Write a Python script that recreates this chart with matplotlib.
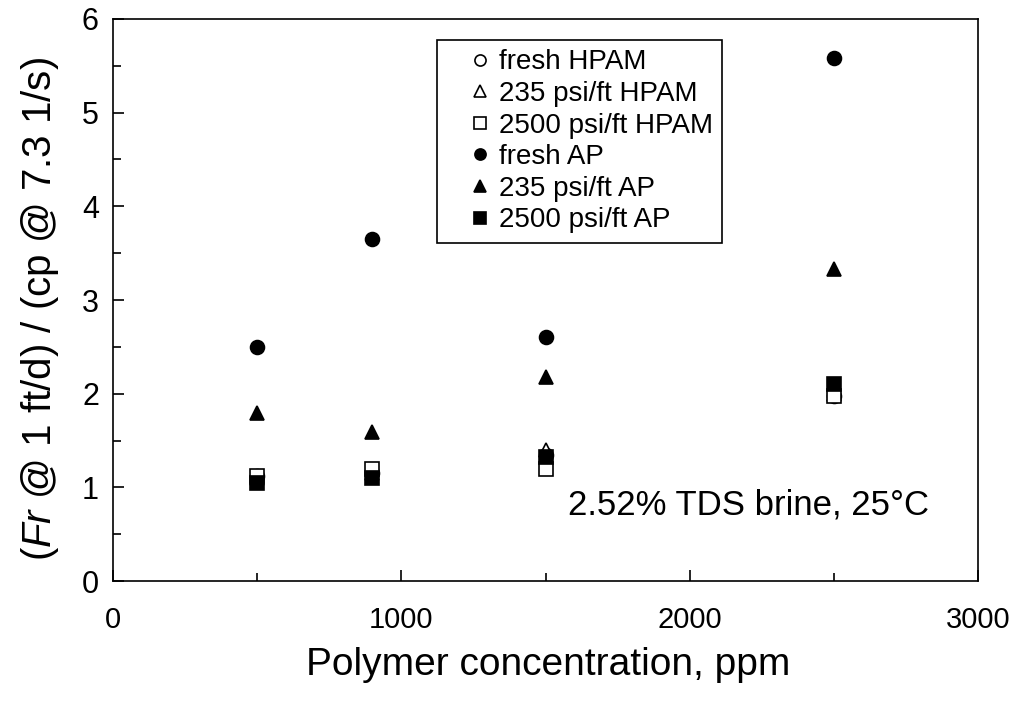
import matplotlib
matplotlib.use("Agg")
import matplotlib.pyplot as plt
from matplotlib.ticker import MultipleLocator

plt.rcParams['font.family'] = ['Liberation Sans', 'DejaVu Sans']
plt.rcParams['mathtext.fontset'] = 'custom'
plt.rcParams['mathtext.rm'] = 'Liberation Sans'
plt.rcParams['mathtext.it'] = 'Liberation Sans:italic'

# Polymer concentrations, ppm
conc = [500, 900, 1500, 2500]

# Resistance factor / viscosity ratio for each sample
fresh_hpam = [1.12, 1.15, 1.35, 1.97]
hpam_235 = [1.10, 1.15, 1.40, 2.00]
hpam_2500 = [1.12, 1.20, 1.20, 1.97]
fresh_ap = [2.50, 3.65, 2.61, 5.58]
ap_235 = [1.79, 1.59, 2.18, 3.33]
ap_2500 = [1.05, 1.10, 1.32, 2.10]

series = [
    ("fresh HPAM", fresh_hpam, "o", "white"),
    ("235 psi/ft HPAM", hpam_235, "^", "white"),
    ("2500 psi/ft HPAM", hpam_2500, "s", "white"),
    ("fresh AP", fresh_ap, "o", "black"),
    ("235 psi/ft AP", ap_235, "^", "black"),
    ("2500 psi/ft AP", ap_2500, "s", "black"),
]

fig = plt.figure(figsize=(10.16, 7.03), dpi=100)
ax = fig.add_axes([0.111, 0.1735, 0.852, 0.7995])

for label, vals, marker, face in series:
    ax.plot(conc, vals, linestyle="none", marker=marker, markersize=10,
            markerfacecolor=face, markeredgecolor="black", markeredgewidth=1.2,
            label=label)

ax.set_xlim(0, 3000)
ax.set_ylim(0, 6)
ax.xaxis.set_major_locator(MultipleLocator(1000))
ax.xaxis.set_minor_locator(MultipleLocator(500))
ax.yaxis.set_major_locator(MultipleLocator(1))
ax.yaxis.set_minor_locator(MultipleLocator(0.5))
ax.tick_params(which="both", direction="in", width=1.2, top=False, right=False)
ax.tick_params(which="major", length=8)
ax.tick_params(which="minor", length=6)
ax.tick_params(axis="x", labelsize=21, pad=18)
ax.tick_params(axis="y", labelsize=22, pad=10)
for s in ax.spines.values():
    s.set_linewidth(1.2)

ax.set_xlabel("Polymer concentration, ppm", fontsize=28, va="center")
ax.xaxis.set_label_coords(0.503, -0.149)
ax.set_ylabel(r"($\it{Fr}$ @ 1 ft/d) / (cp @ 7.3 1/s)", fontsize=29, va="center")
ax.yaxis.set_label_coords(-0.084, 0.484)

ax.text(1578, 0.81, "2.52% TDS brine, 25°C", fontsize=25, va="center", ha="left")

leg = ax.legend(loc="upper left", bbox_to_anchor=(0.375, 0.963), fontsize=20,
                markerscale=0.8, handlelength=2.4, handletextpad=-0.54,
                labelspacing=0.2, borderpad=0.35, borderaxespad=0,
                fancybox=False, edgecolor="black", framealpha=1)
leg.get_frame().set_linewidth(1.2)

fig.savefig("out.png", dpi=100)
